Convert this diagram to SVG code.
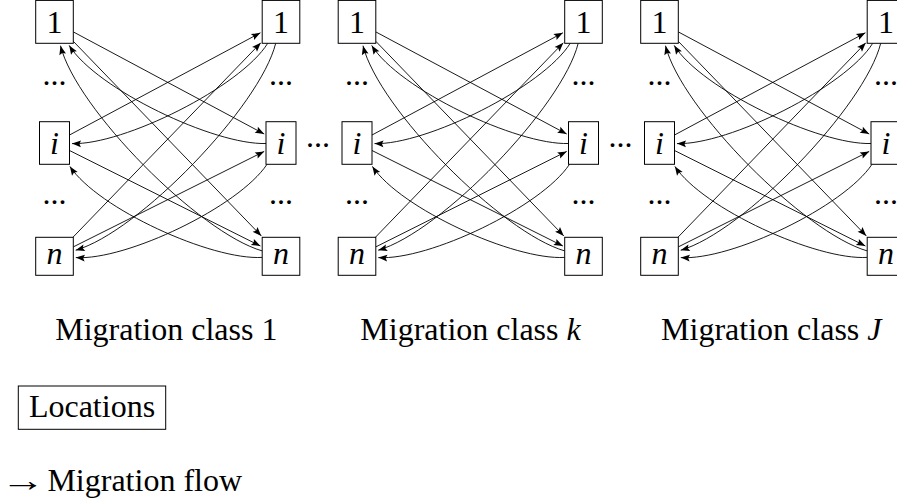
<svg xmlns="http://www.w3.org/2000/svg" width="897" height="504" viewBox="0 0 897 504">
<defs>
<marker id="ah" markerUnits="userSpaceOnUse" viewBox="-10 -5 11 10" refX="0" refY="0" markerWidth="11" markerHeight="10" orient="auto">
<path d="M0,0 L-9,-3.4 L-7.4,0 L-9,3.4 Z" fill="#000"/>
</marker>
</defs>
<style>
.box{fill:#fff;stroke:#000;stroke-width:1}
.t{font-family:"Liberation Serif","Times New Roman",serif;font-size:32px;fill:#000}
.m{text-anchor:middle}
.it{font-style:italic}
.e{fill:none;stroke:#000;stroke-width:0.9;marker-end:url(#ah)}
</style>
<rect width="897" height="504" fill="#fff"/>

<!-- Block 1 -->
<g id="block1">
<g id="b1-connectors">
<path class="e" d="M73.3,31.9 L264.2,134"/>
<path class="e" d="M73.3,41.3 L261.3,235.9"/>
<path class="e" d="M69.5,135 L260.4,32.8"/>
<path class="e" d="M69.5,150.5 L260.4,246"/>
<path class="e" d="M72.9,237.3 L260.8,42.8"/>
<path class="e" d="M73.3,246.9 L264.2,151.4"/>
<path class="e" d="M266,143.5 C214.6,145.2 96.3,89.1 69.2,45.4"/>
<path class="e" d="M262.2,250.9 C199.5,232.9 76.2,109 60.5,45.7"/>
<path class="e" d="M262.2,257.4 C211.6,260.4 97.9,208.7 69.9,166.4"/>
<path class="e" d="M267.7,43.3 C240.5,87 123.4,145.2 72,143.6"/>
<path class="e" d="M275.7,43.3 C259.9,106.6 138.4,232.2 75.7,250.2"/>
<path class="e" d="M267,164.3 C239,206.6 126.4,260.6 75.8,257.6"/>
</g>
<g id="b1-L1"><rect class="box" x="35.7" y="0.4" width="37.6" height="42.9"/><text class="t m" x="54.5" y="33.3">1</text></g>
<g id="b1-Li"><rect class="box" x="39.5" y="121.7" width="30" height="42.6"/><text class="t m it" x="54.5" y="153.5">i</text></g>
<g id="b1-Ln"><rect class="box" x="35.7" y="237.3" width="37.6" height="38"/><text class="t m it" x="54.5" y="264">n</text></g>
<g id="b1-R1"><rect class="box" x="262.2" y="0.4" width="37.6" height="42.9"/><text class="t m" x="281" y="33.3">1</text></g>
<g id="b1-Ri"><rect class="box" x="266" y="121.7" width="30" height="42.6"/><text class="t m it" x="281" y="153.5">i</text></g>
<g id="b1-Rn"><rect class="box" x="262.2" y="237.3" width="37.6" height="38"/><text class="t m it" x="281" y="264">n</text></g>
<g id="b1-dots"><text class="t m" x="54.5" y="84.5">...</text><text class="t m" x="54.5" y="204">...</text><text class="t m" x="281" y="84.5">...</text><text class="t m" x="281" y="204">...</text></g>
</g>

<!-- Block 2 -->
<g id="block2" transform="translate(302.5,0)">
<g id="b2-connectors">
<path class="e" d="M73.3,31.9 L264.2,134"/>
<path class="e" d="M73.3,41.3 L261.3,235.9"/>
<path class="e" d="M69.5,135 L260.4,32.8"/>
<path class="e" d="M69.5,150.5 L260.4,246"/>
<path class="e" d="M72.9,237.3 L260.8,42.8"/>
<path class="e" d="M73.3,246.9 L264.2,151.4"/>
<path class="e" d="M266,143.5 C214.6,145.2 96.3,89.1 69.2,45.4"/>
<path class="e" d="M262.2,250.9 C199.5,232.9 76.2,109 60.5,45.7"/>
<path class="e" d="M262.2,257.4 C211.6,260.4 97.9,208.7 69.9,166.4"/>
<path class="e" d="M267.7,43.3 C240.5,87 123.4,145.2 72,143.6"/>
<path class="e" d="M275.7,43.3 C259.9,106.6 138.4,232.2 75.7,250.2"/>
<path class="e" d="M267,164.3 C239,206.6 126.4,260.6 75.8,257.6"/>
</g>
<g id="b2-L1"><rect class="box" x="35.7" y="0.4" width="37.6" height="42.9"/><text class="t m" x="54.5" y="33.3">1</text></g>
<g id="b2-Li"><rect class="box" x="39.5" y="121.7" width="30" height="42.6"/><text class="t m it" x="54.5" y="153.5">i</text></g>
<g id="b2-Ln"><rect class="box" x="35.7" y="237.3" width="37.6" height="38"/><text class="t m it" x="54.5" y="264">n</text></g>
<g id="b2-R1"><rect class="box" x="262.2" y="0.4" width="37.6" height="42.9"/><text class="t m" x="281" y="33.3">1</text></g>
<g id="b2-Ri"><rect class="box" x="266" y="121.7" width="30" height="42.6"/><text class="t m it" x="281" y="153.5">i</text></g>
<g id="b2-Rn"><rect class="box" x="262.2" y="237.3" width="37.6" height="38"/><text class="t m it" x="281" y="264">n</text></g>
<g id="b2-dots"><text class="t m" x="54.5" y="84.5">...</text><text class="t m" x="54.5" y="204">...</text><text class="t m" x="281" y="84.5">...</text><text class="t m" x="281" y="204">...</text></g>
</g>

<!-- Block 3 -->
<g id="block3" transform="translate(605,0)">
<g id="b3-connectors">
<path class="e" d="M73.3,31.9 L264.2,134"/>
<path class="e" d="M73.3,41.3 L261.3,235.9"/>
<path class="e" d="M69.5,135 L260.4,32.8"/>
<path class="e" d="M69.5,150.5 L260.4,246"/>
<path class="e" d="M72.9,237.3 L260.8,42.8"/>
<path class="e" d="M73.3,246.9 L264.2,151.4"/>
<path class="e" d="M266,143.5 C214.6,145.2 96.3,89.1 69.2,45.4"/>
<path class="e" d="M262.2,250.9 C199.5,232.9 76.2,109 60.5,45.7"/>
<path class="e" d="M262.2,257.4 C211.6,260.4 97.9,208.7 69.9,166.4"/>
<path class="e" d="M267.7,43.3 C240.5,87 123.4,145.2 72,143.6"/>
<path class="e" d="M275.7,43.3 C259.9,106.6 138.4,232.2 75.7,250.2"/>
<path class="e" d="M267,164.3 C239,206.6 126.4,260.6 75.8,257.6"/>
</g>
<g id="b3-L1"><rect class="box" x="35.7" y="0.4" width="37.6" height="42.9"/><text class="t m" x="54.5" y="33.3">1</text></g>
<g id="b3-Li"><rect class="box" x="39.5" y="121.7" width="30" height="42.6"/><text class="t m it" x="54.5" y="153.5">i</text></g>
<g id="b3-Ln"><rect class="box" x="35.7" y="237.3" width="37.6" height="38"/><text class="t m it" x="54.5" y="264">n</text></g>
<g id="b3-R1"><rect class="box" x="262.2" y="0.4" width="37.6" height="42.9"/><text class="t m" x="281" y="33.3">1</text></g>
<g id="b3-Ri"><rect class="box" x="266" y="121.7" width="30" height="42.6"/><text class="t m it" x="281" y="153.5">i</text></g>
<g id="b3-Rn"><rect class="box" x="262.2" y="237.3" width="37.6" height="38"/><text class="t m it" x="281" y="264">n</text></g>
<g id="b3-dots"><text class="t m" x="54.5" y="84.5">...</text><text class="t m" x="54.5" y="204">...</text><text class="t m" x="281" y="84.5">...</text><text class="t m" x="281" y="204">...</text></g>
</g>

<g id="between-dots">
<text class="t m" x="318" y="146.5">...</text>
<text class="t m" x="620.5" y="146.5">...</text>
</g>

<g id="labels">
<text class="t m" x="166.3" y="340">Migration class 1</text>
<text class="t m" x="470.5" y="340">Migration class <tspan class="it">k</tspan></text>
<text class="t m" x="771.3" y="340">Migration class <tspan class="it">J</tspan></text>
</g>

<g id="legend-locations">
<rect class="box" x="18.3" y="386" width="147.4" height="43.3"/>
<text class="t m" x="92" y="417.3">Locations</text>
</g>
<g id="legend-flow">
<text class="t m" transform="translate(22.6,491) scale(1.4,1)" x="0" y="0">→</text>
<text class="t" x="47.4" y="491">Migration flow</text>
</g>
</svg>
